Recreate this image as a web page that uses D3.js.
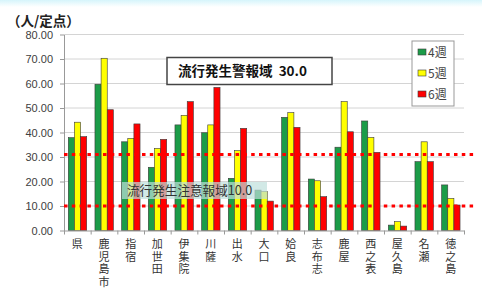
<!DOCTYPE html>
<html>
<head>
<meta charset="utf-8">
<script src="https://cdn.jsdelivr.net/npm/d3@7"></script>
<style>
  body { margin: 0; background: #fff; }
  text { font-family: "Noto Sans CJK JP", "Noto Sans", sans-serif; }
</style>
</head>
<body>
<div class="canvas"></div>
<script>
// data
const categories = ["県", "鹿児島市", "指宿", "加世田", "伊集院", "川薩", "出水", "大口", "姶良", "志布志", "鹿屋", "西之表", "屋久島", "名瀬", "徳之島"];
const seriesNames = ["4週", "5週", "6週"];
const week4 = [37.9, 59.7, 36.2, 25.8, 43.1, 39.9, 21.3, 16.5, 46.2, 21.0, 34.0, 44.7, 2.2, 28.1, 18.6];
const week5 = [44.2, 70.3, 37.6, 33.5, 47.0, 43.1, 32.6, 16.0, 48.1, 20.3, 52.6, 38.0, 3.6, 36.2, 13.1];
const week6 = [38.3, 49.3, 43.5, 37.2, 52.6, 58.4, 41.7, 12.0, 42.1, 13.8, 40.3, 31.9, 1.8, 28.1, 10.4];
const yTicks = [0, 10, 20, 30, 40, 50, 60, 70, 80];
const thresholds = [31, 10];
const colors = ["#1c9c48", "#ffff00", "#ff0000"];

const series = [week4, week5, week6];

const svg = d3.select(".canvas").append("svg")
    .attr("width", 482)
    .attr("height", 295);

// faint blue band at the top edge
const grad = svg.append("defs").append("linearGradient")
    .attr("id", "topband").attr("x1", 0).attr("y1", 0).attr("x2", 0).attr("y2", 1);
grad.append("stop").attr("offset", 0).attr("stop-color", "#d6f5fb");
grad.append("stop").attr("offset", 1).attr("stop-color", "#ffffff");
svg.append("rect").attr("x", 0).attr("y", 0).attr("width", 482).attr("height", 7)
    .attr("fill", "url(#topband)");

// scales
const x = d3.scaleBand().domain(categories).range([64, 464]).padding(0);
const xSub = d3.scaleBand().domain(seriesNames).range([4.3, 22.7]).padding(0);
const y = d3.scaleLinear().domain([0, 80]).range([230.5, 34.5]);
const xIdx = d3.scaleLinear().domain([0, categories.length]).range([64, 464]);

// gridlines
svg.append("g").selectAll("line")
    .data(yTicks.slice(1))
    .enter().append("line")
    .attr("x1", 64).attr("x2", 464)
    .attr("y1", d => y(d)).attr("y2", d => y(d))
    .attr("stroke", "#d4d4d4").attr("stroke-width", 1);

// y axis
const yAxisGroup = svg.append("g")
    .attr("transform", "translate(64,0)")
    .call(d3.axisLeft(y).tickValues(yTicks).tickFormat(d3.format(".2f"))
        .tickSizeInner(4).tickSizeOuter(0).tickPadding(7));
yAxisGroup.select(".domain").attr("stroke", "#999");
yAxisGroup.selectAll(".tick line").attr("stroke", "#999");
yAxisGroup.selectAll("text")
    .style("font-family", "'Liberation Sans', Arial, sans-serif")
    .style("font-size", "11px")
    .attr("fill", "#404040");

// bars
const groups = svg.append("g").selectAll("g")
    .data(categories)
    .enter().append("g")
    .attr("transform", d => `translate(${x(d)},0)`);

groups.selectAll("rect")
    .data((d, i) => series.map((s, j) => ({ name: seriesNames[j], value: s[i], color: colors[j] })))
    .enter().append("rect")
    .attr("x", d => xSub(d.name))
    .attr("y", d => y(d.value))
    .attr("width", xSub.bandwidth())
    .attr("height", d => y(0) - y(d.value))
    .attr("fill", d => d.color)
    .attr("stroke", "#3a3a3a")
    .attr("stroke-width", 0.6);

// x axis with ticks on category boundaries
const xAxisGroup = svg.append("g")
    .attr("transform", `translate(0,${y(0)})`)
    .call(d3.axisBottom(xIdx).tickValues(d3.range(0, categories.length + 1))
        .tickFormat("").tickSizeInner(4).tickSizeOuter(0));
xAxisGroup.select(".domain").attr("stroke", "#999");
xAxisGroup.selectAll(".tick line").attr("stroke", "#999");

// vertical category labels
svg.append("g").selectAll("text")
    .data(categories)
    .enter().append("text")
    .attr("x", d => x(d) + x.bandwidth() / 2)
    .attr("y", 238.5)
    .attr("writing-mode", "vertical-rl")
    .style("font-size", "11px")
    .style("letter-spacing", "1.6px")
    .attr("fill", "#333")
    .text(d => d);

// lower label box (under the dotted lines)
svg.append("rect")
    .attr("x", 122).attr("y", 182).attr("width", 145).attr("height", 17)
    .attr("fill", "#bfe0dc").attr("fill-opacity", 0.7);
svg.append("text")
    .attr("x", 127).attr("y", 195)
    .style("font-size", "12.6px")
    .attr("fill", "#333")
    .text("流行発生注意報域10.0");

// dotted threshold lines
svg.append("g").selectAll("line")
    .data(thresholds)
    .enter().append("line")
    .attr("x1", 64).attr("x2", 476)
    .attr("y1", d => y(d)).attr("y2", d => y(d))
    .attr("stroke", "#ff0000")
    .attr("stroke-width", 3)
    .attr("stroke-dasharray", "3.5,4.3");

// upper label box
svg.append("rect")
    .attr("x", 167).attr("y", 57.5).attr("width", 165).attr("height", 27)
    .attr("fill", "#fff").attr("stroke", "#444").attr("stroke-width", 1.5);
svg.append("text")
    .attr("x", 178).attr("y", 76)
    .style("font-size", "13.5px")
    .style("font-weight", "bold")
    .attr("fill", "#111")
    .text("流行発生警報域\u00a0\u00a030.0");

// unit label
svg.append("text")
    .attr("x", 7).attr("y", 26)
    .style("font-size", "13.5px")
    .style("font-weight", "bold")
    .attr("fill", "#222")
    .text("（人/定点）");

// legend
const legend = svg.append("g");
legend.append("rect")
    .attr("x", 412).attr("y", 41).attr("width", 42).attr("height", 65)
    .attr("fill", "#fff").attr("stroke", "#999");
const items = legend.selectAll("g.item")
    .data(seriesNames)
    .enter().append("g")
    .attr("class", "item")
    .attr("transform", (d, i) => `translate(418,${52 + i * 21})`);
items.append("rect")
    .attr("x", 0).attr("y", -3).attr("width", 8).attr("height", 6)
    .attr("fill", (d, i) => colors[i])
    .attr("stroke", "#3a3a3a").attr("stroke-width", 0.6);
items.append("text")
    .attr("x", 10).attr("y", 4.5)
    .style("font-size", "12px")
    .attr("fill", "#444")
    .text(d => d);
</script>
</body>
</html>
